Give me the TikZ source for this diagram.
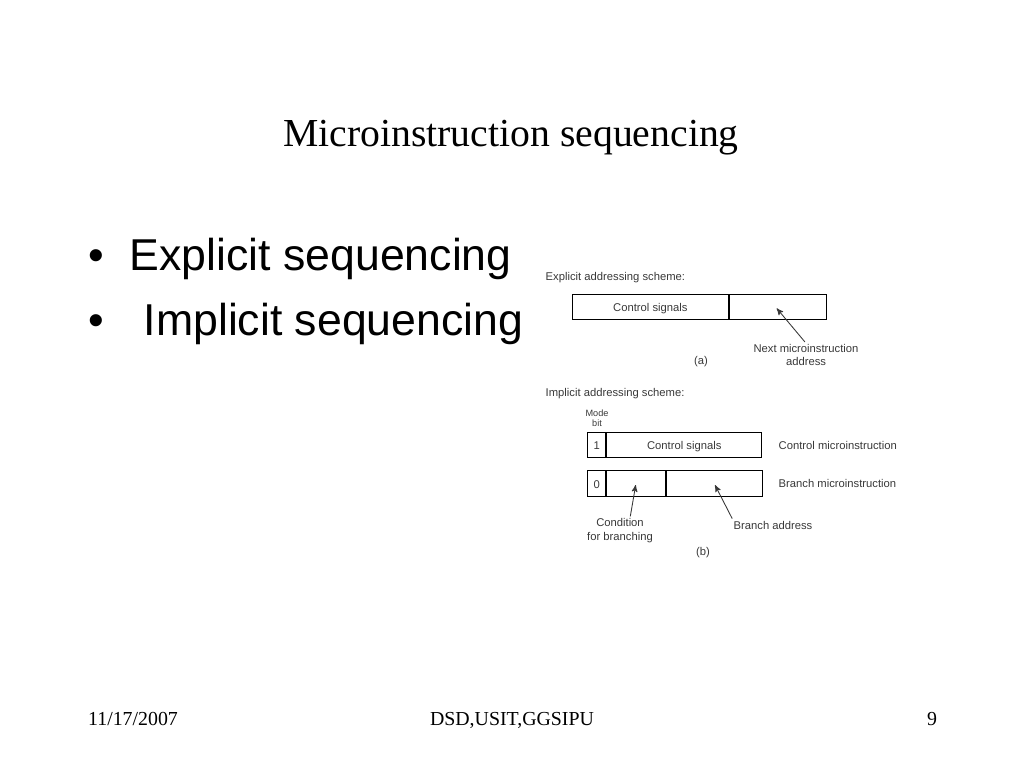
\documentclass[tikz,border=0pt]{standalone}
\usepackage{fontspec}
\setmainfont{Liberation Serif}
\newfontfamily\arialfont{Liberation Sans}
\usetikzlibrary{arrows,positioning}
\definecolor{diagink}{gray}{0.22}

\begin{document}
\begin{tikzpicture}[x=0.02cm,y=-0.02cm,thick,
  field/.style={rectangle,draw=black,line width=0.6pt,minimum height=0.5cm,inner sep=0pt,text height=1.5ex,text depth=0.3ex,font=\arialfont\fontsize{6.4}{7.9}\selectfont,text=diagink},
  small label/.style={align=center,inner sep=0pt,font=\arialfont\fontsize{6.4}{7.9}\selectfont,text=diagink},
  pointer/.style={->,>=stealth',draw=diagink,line width=0.5pt,shorten <=1pt},
  bullet text/.style={anchor=base west,inner sep=0pt,font=\arialfont\fontsize{25.4}{30}\selectfont},
  footer/.style={anchor=base,inner sep=0pt,font=\fontsize{11.3}{13}\selectfont}]

  \useasboundingbox (0,0) rectangle (1024,768);

  \node[anchor=base,inner sep=0pt,font=\fontsize{22.6}{26}\selectfont] (title) at (511,146.7) {Microinstruction sequencing};

  \node[bullet text] (b1) at (88,270) {\textbullet};
  \node[bullet text] (expl) at (129,270) {Explicit sequencing};
  \node[bullet text] (b2) at (88,335) {\textbullet};
  \node[bullet text] (impl) at (143,335) {Implicit sequencing};

  % (a) explicit addressing
  \node[small label,anchor=west] (schemea) at (545,278) {Explicit addressing scheme:};
  \node[field,minimum width=3.106cm] (ctrla) at (650.4,306.7) {Control signals};
  \node[field,minimum width=1.954cm] (nexta) [right=0pt of ctrla] {};
  \coordinate (nexttip) at (776.7,308.3);
  \node[small label] (nextlbl) at (806,355) {Next microinstruction\\address};
  \node[small label] (capa) at (701,362) {(a)};

  % (b) implicit addressing
  \node[small label,anchor=west] (schemeb) at (545,394) {Implicit addressing scheme:};
  \node[small label,font=\arialfont\fontsize{5.2}{5.7}\selectfont] (mode) at (597,418) {Mode\\bit};
  \node[field,minimum width=0.36cm] (mode1) at (596.7,444.8) {1};
  \node[field,minimum width=3.1cm] (ctrlb) [right=0pt of mode1] {Control signals};
  \node[field,minimum width=0.36cm,minimum height=0.53cm] (mode0) at (596.7,483.3) {0};
  \node[field,minimum width=1.172cm,minimum height=0.53cm] (cond) [right=0pt of mode0] {};
  \node[field,minimum width=1.928cm,minimum height=0.53cm] (braddr) [right=0pt of cond] {};
  \node[small label,anchor=west] (ctrlmi) at (778,445) {Control microinstruction};
  \node[small label,anchor=west] (branchmi) at (778,483) {Branch microinstruction};
  \coordinate (condtip) at (635.7,485);
  \coordinate (brtip) at (715,485);
  \node[small label] (condlbl) at (620,531) {Condition\\for branching};
  \node[small label] (brlbl) at (773,525) {Branch address};
  \node[small label] (capb) at (703,553) {(b)};

  \draw[pointer] (nextlbl.north) -- (nexttip);
  \draw[pointer] ([xshift=0.2cm]condlbl.north) -- (condtip);
  \draw[pointer] ([xshift=-0.8cm]brlbl.north) -- (brtip);

  \node[footer] (date) at (133,725) {11/17/2007};
  \node[footer] (dept) at (512,725) {DSD,USIT,GGSIPU};
  \node[footer] (page) at (932,725) {9};
\end{tikzpicture}
\end{document}
